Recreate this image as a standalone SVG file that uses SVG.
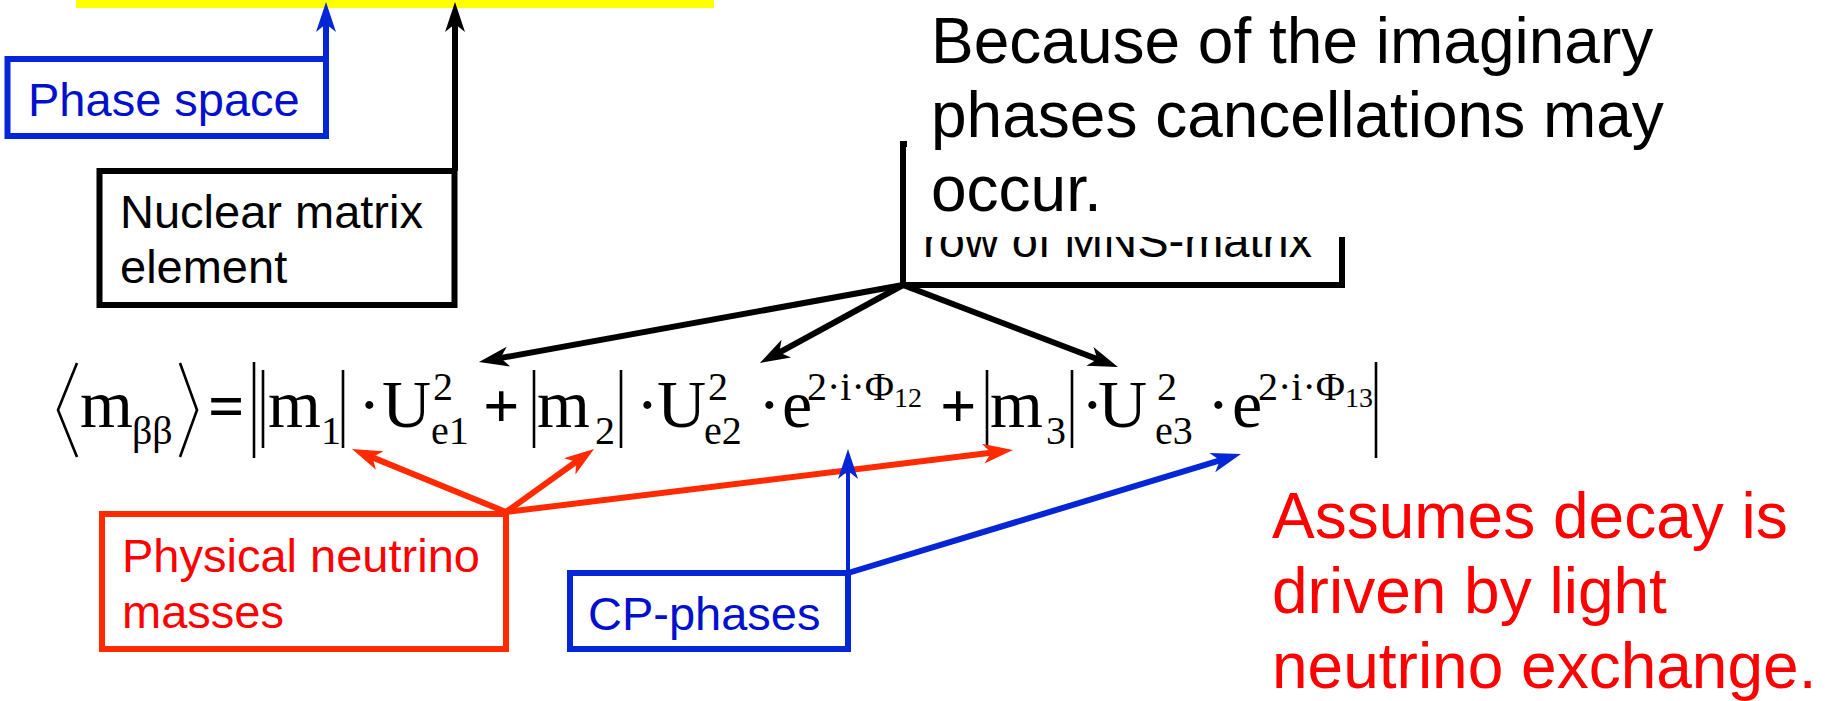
<svg xmlns="http://www.w3.org/2000/svg" width="1826" height="701" viewBox="0 0 1826 701">
<defs>
<style>
.sans{font-family:"Liberation Sans",Arial,sans-serif}
.serif{font-family:"Liberation Serif","Times New Roman",serif;fill:#000}
.box{fill:#fff;stroke-width:6}
.lbl{font-size:47px}
.big{font-size:64px}
.m{font-size:68px}
.s{font-size:40px}
.ss{font-size:28px}
.op{font-size:64px;font-weight:bold}
.bar{stroke:#000;stroke-width:2.6;fill:none}
.blk{stroke:#000;stroke-width:6;fill:none}
.red{stroke:#FF2A00;stroke-width:6;fill:none}
.blu{stroke:#0526D6;stroke-width:6;fill:none}
</style>
<marker id="ahK" markerUnits="userSpaceOnUse" markerWidth="40" markerHeight="30" viewBox="-20 -15 40 30" refX="0" refY="0" orient="auto"><path d="M16,0 L-14,-10 L-6,0 L-14,10 Z" fill="#000"/></marker>
<marker id="ahR" markerUnits="userSpaceOnUse" markerWidth="40" markerHeight="30" viewBox="-20 -15 40 30" refX="0" refY="0" orient="auto"><path d="M16,0 L-14,-10 L-6,0 L-14,10 Z" fill="#FF2A00"/></marker>
<marker id="ahB" markerUnits="userSpaceOnUse" markerWidth="40" markerHeight="30" viewBox="-20 -15 40 30" refX="0" refY="0" orient="auto"><path d="M16,0 L-14,-10 L-6,0 L-14,10 Z" fill="#0526D6"/></marker>
</defs>
<rect width="1826" height="701" fill="#fff"/>

<g id="formula-bar"><rect x="76" y="-5" width="638" height="13" fill="#FFFF00"/></g>

<g id="phase-space">
<rect class="box" x="7.5" y="59" width="318.5" height="77" stroke="#0526D6"/>
<text class="sans lbl" x="28" y="116" fill="#0010CC">Phase space</text>
</g>

<g id="nuclear-matrix">
<rect class="box" x="99.5" y="171" width="355" height="134" stroke="#000"/>
<text class="sans lbl" x="120" y="228" fill="#000">Nuclear matrix</text>
<text class="sans lbl" x="120" y="283" fill="#000">element</text>
</g>

<g id="mns-row">
<rect class="box" x="903" y="144" width="439" height="141" stroke="#000"/>
<text class="sans lbl" x="923" y="257" fill="#000">row of MNS-matrix</text>
</g>

<g id="cancellation-note">
<rect x="907" y="0" width="800" height="237" fill="#fff"/>
<text class="sans big" fill="#000"><tspan x="931" y="63">Because of the imaginary</tspan><tspan x="931" y="137">phases cancellations may</tspan><tspan x="931" y="211">occur.</tspan></text>
</g>

<g id="neutrino-masses">
<rect class="box" x="102" y="514" width="404" height="135" stroke="#FF2A00"/>
<text class="sans lbl" x="122" y="572" fill="#FF0000">Physical neutrino</text>
<text class="sans lbl" x="122" y="628" fill="#FF0000">masses</text>
</g>

<g id="cp-phases">
<rect class="box" x="570" y="573" width="278" height="76" stroke="#0526D6"/>
<text class="sans lbl" x="588" y="630" fill="#0010CC">CP-phases</text>
</g>

<g id="assumption-note">
<text class="sans big" fill="#FF0000"><tspan x="1272" y="538">Assumes decay is</tspan><tspan x="1272" y="613">driven by light</tspan><tspan x="1272" y="688">neutrino exchange.</tspan></text>
</g>

<g id="equation">
<polyline class="bar" points="77,363 58,410 77,457"/>
<text class="serif m" x="80" y="427">m</text>
<text class="serif s" x="132" y="444">ββ</text>
<polyline class="bar" points="180,363 197,410 180,457"/>
<text class="serif op" x="208" y="428">=</text>
<line class="bar" x1="254" y1="362" x2="254" y2="458"/>
<line class="bar" x1="263" y1="370" x2="263" y2="448"/>
<text class="serif m" x="268" y="427">m</text>
<text class="serif s" x="321" y="444">1</text>
<line class="bar" x1="343" y1="370" x2="343" y2="448"/>
<text class="serif m" x="358" y="427">·</text>
<text class="serif m" x="382" y="427">U</text>
<text class="serif s" x="433" y="400">2</text>
<text class="serif s" x="431" y="444">e1</text>
<text class="serif op" x="483" y="427">+</text>
<line class="bar" x1="534" y1="370" x2="534" y2="448"/>
<text class="serif m" x="537" y="427">m</text>
<text class="serif s" x="595" y="444">2</text>
<line class="bar" x1="621" y1="370" x2="621" y2="448"/>
<text class="serif m" x="636" y="427">·</text>
<text class="serif m" x="657" y="427">U</text>
<text class="serif s" x="708" y="400">2</text>
<text class="serif s" x="704" y="444">e2</text>
<text class="serif m" x="758" y="427">·</text>
<text class="serif m" x="782" y="427">e</text>
<text class="serif s" x="807" y="400">2·i·Φ<tspan class="ss" dy="7">12</tspan></text>
<text class="serif op" x="940" y="427">+</text>
<line class="bar" x1="987" y1="370" x2="987" y2="448"/>
<text class="serif m" x="990" y="427">m</text>
<text class="serif s" x="1046" y="444">3</text>
<line class="bar" x1="1072" y1="370" x2="1072" y2="448"/>
<text class="serif m" x="1081" y="427">·</text>
<text class="serif m" x="1098" y="427">U</text>
<text class="serif s" x="1157" y="400">2</text>
<text class="serif s" x="1155" y="444">e3</text>
<text class="serif m" x="1207" y="427">·</text>
<text class="serif m" x="1232" y="427">e</text>
<text class="serif s" x="1258" y="400">2·i·Φ<tspan class="ss" dy="7">13</tspan></text>
<line class="bar" x1="1376" y1="362" x2="1376" y2="458"/>
</g>

<g id="connectors">
<line class="blu" x1="326" y1="59" x2="326" y2="18" marker-end="url(#ahB)"/>
<line class="blk" x1="455" y1="171" x2="455" y2="18" marker-end="url(#ahK)"/>
<line class="blk" x1="903" y1="285" x2="494.7" y2="359.1" marker-end="url(#ahK)"/>
<line class="blk" x1="903" y1="285" x2="774" y2="355.3" marker-end="url(#ahK)"/>
<line class="blk" x1="903" y1="285" x2="1103" y2="361.3" marker-end="url(#ahK)"/>
<line class="red" x1="506" y1="512" x2="366.8" y2="455.1" marker-end="url(#ahR)"/>
<line class="red" x1="506" y1="512" x2="581" y2="458.3" marker-end="url(#ahR)"/>
<line class="red" x1="506" y1="512" x2="997.1" y2="451.9" marker-end="url(#ahR)"/>
<line class="blu" style="stroke-width:4" x1="848" y1="573" x2="848" y2="465" marker-end="url(#ahB)"/>
<line class="blu" x1="848" y1="573" x2="1225.7" y2="458.6" marker-end="url(#ahB)"/>
</g>
</svg>
